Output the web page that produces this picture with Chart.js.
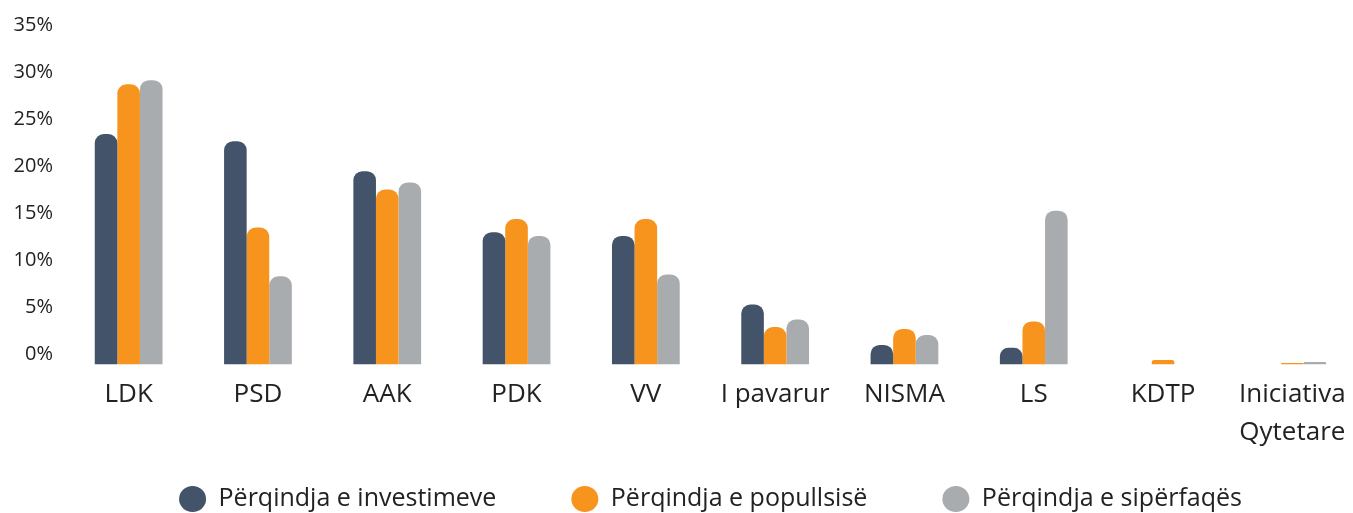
<!DOCTYPE html>
<html>
<head>
<meta charset="utf-8">
<script src="https://cdn.jsdelivr.net/npm/chart.js@4.4.1/dist/chart.umd.min.js"></script>
<style>
  html, body { margin: 0; padding: 0; background: #fff; overflow: hidden; }
  #wrap { position: relative; width: 1362px; height: 572px; }
</style>
</head>
<body>
<div id="wrap"><canvas id="partyChart"></canvas></div>
<script>
// kategorite (partite) dhe vlerat ne perqindje
const parties = ['LDK', 'PSD', 'AAK', 'PDK', 'VV', 'I pavarur', 'NISMA', 'LS', 'KDTP', ['Iniciativa', 'Qytetare']];
const investimet = [24.55, 23.8, 20.6, 14.1, 13.7, 6.4, 2.1, 1.8, 0, 0];
const popullsia  = [29.85, 14.6, 18.65, 15.5, 15.5, 4.0, 3.8, 4.6, 0.5, 0.17];
const siperfaqja = [30.3, 9.4, 19.4, 13.7, 9.6, 4.8, 3.15, 16.4, 0, 0.28];
const yTicks = [0, 5, 10, 15, 20, 25, 30, 35];

const seriesNames = ['Përqindja e investimeve', 'Përqindja e popullsisë', 'Përqindja e sipërfaqës'];
const colors = ['#435369', '#F7941D', '#A9ACAF'];

const font = "'Open Sans', Lato, sans-serif";
const legendPad = 75;
const legendFont = 25;
const legendCenterY = 499;

function makeDataset(i, values) {
  return {
    label: seriesNames[i],
    data: values,
    backgroundColor: colors[i],
    borderRadius: 9,
    borderSkipped: 'start',
    barPercentage: 1,
    categoryPercentage: 0.524
  };
}

// legjenda ka hapesire te madhe horizontale; e ngre lart qe te mos dale jashte
const legendShift = {
  id: 'legendShift',
  afterLayout(chart) {
    const lg = chart.legend;
    if (!lg) return;
    const dy = (lg.top + legendPad + legendFont / 2) - legendCenterY;
    lg.top -= dy;
    lg.bottom -= dy;
  }
};

const ctx = document.getElementById('partyChart').getContext('2d');
const chart = new Chart(ctx, {
  type: 'bar',
  data: {
    labels: parties,
    datasets: [
      makeDataset(0, investimet),
      makeDataset(1, popullsia),
      makeDataset(2, siperfaqja)
    ]
  },
  plugins: [legendShift],
  options: {
    responsive: true,
    maintainAspectRatio: false,
    animation: false,
    layout: { padding: { top: 36, right: 5, left: 0, bottom: 0 } },
    plugins: {
      tooltip: { enabled: false },
      legend: {
        position: 'bottom',
        fullSize: false,
        labels: {
          usePointStyle: true,
          pointStyle: 'circle',
          boxHeight: 18.5,
          pointStyleWidth: 27,
          padding: legendPad,
          color: '#222',
          font: { family: font, size: legendFont }
        }
      }
    },
    scales: {
      x: {
        grid: { display: false, drawTicks: false },
        border: { display: false },
        ticks: {
          color: '#222',
          padding: 11,
          maxRotation: 0,
          autoSkip: false,
          font: { family: font, size: 26, lineHeight: 1.45 }
        }
      },
      y: {
        min: 0,
        max: 35,
        afterFit: function(scale) { scale.width = 64; },
        afterBuildTicks: function(scale) {
          scale.ticks = yTicks.map(v => ({ value: v }));
        },
        grid: { display: false, drawTicks: false },
        border: { display: false },
        ticks: {
          color: '#222',
          padding: 11,
          labelOffset: -10.5,
          font: { family: font, size: 20 },
          callback: function(value) { return value + '%'; }
        }
      }
    }
  }
});
</script>
</body>
</html>
